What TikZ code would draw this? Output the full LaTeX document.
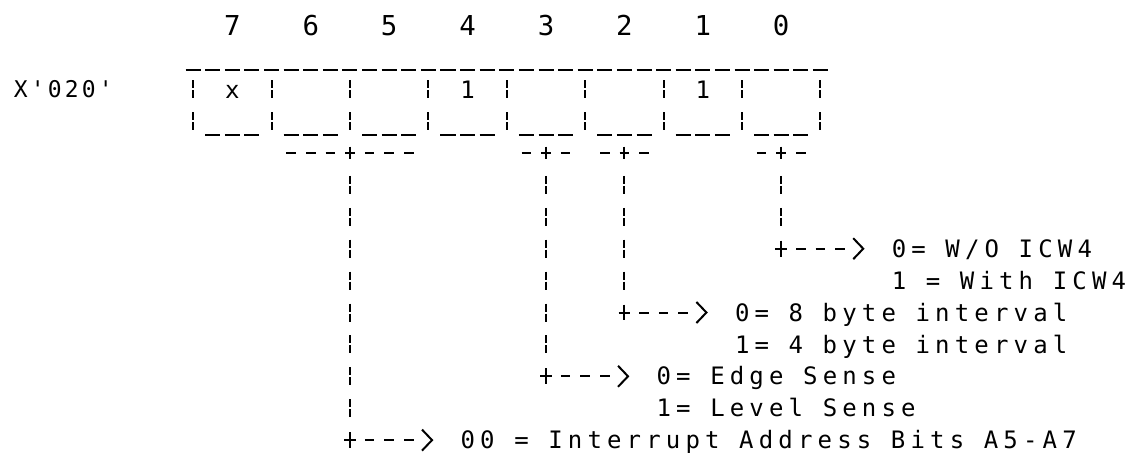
\documentclass[tikz,border=0pt]{standalone}
\usepackage{fontspec}
\newfontfamily\dotmono[LetterSpace=21.5]{DejaVu Sans Mono}
\newfontfamily\plainmono{DejaVu Sans Mono}
\newfontfamily\hexmono[LetterSpace=13.7]{DejaVu Sans Mono}
\usetikzlibrary{arrows.meta,calc}
\begin{document}
\begin{tikzpicture}[x=19.6pt,y=-31.9pt,
  ink/.style={line width=2pt,draw=black},
  uline/.style={line width=1.6pt,draw=black,dash pattern=on 15pt off 4.6pt},
  brokenbar/.style={ink,dash pattern=on 8pt off 2pt on 8pt off 13.9pt},
  hdash/.style={ink,dash pattern=on 9.5pt off 10.1pt},
  stem/.style={ink,dash pattern=on 9.5pt off 10.1pt on 9.5pt off 10.1pt on 9.5pt off 60pt,
     -{Straight Barb[length=10pt,width=21pt]}},
  bitnum/.style={font=\plainmono\fontsize{27.4}{30}\selectfont,inner sep=0pt,anchor=base},
  bitval/.style={font=\plainmono\fontsize{24}{28}\selectfont,inner sep=0pt,anchor=base},
  regname/.style={font=\hexmono\fontsize{23}{26}\selectfont,inner sep=0pt,anchor=base west},
  lbl/.style={font=\dotmono\fontsize{24}{28}\selectfont,inner sep=0pt,anchor=base west}]

\fill[white] (-0.857,-0.796) rectangle (57.714,13.498);
\useasboundingbox (-0.857,-0.796) rectangle (57.714,13.498);

% bit numbers
\foreach \b/\c in {7/11,6/15,5/19,4/23,3/27,2/31,1/35,0/39}
  \node[bitnum] (n\b) at (\c,0.313) {\b};

\node[regname] (reg) at (-0.163,2.245) {X'020'};

% register box
\draw[uline] (8.617,1.40) -- (41.5,1.40);
\foreach \c in {9,13,...,41} \draw[brokenbar] (\c,1.718) -- (\c,3.282);
\foreach \c in {11,15,...,39} \draw[uline] ({\c-1.383},3.44) -- ({\c+1.5},3.44);
\node[bitval] (v7) at (11,2.3) {x};
\node[bitval] (v4) at (23,2.3) {1};
\node[bitval] (v1) at (35,2.3) {1};

% field brackets
\draw[hdash] (13.758,4) -- (20.3,4);
\draw[hdash] (25.758,4) -- (28.3,4);
\draw[hdash] (29.758,4) -- (32.3,4);
\draw[hdash] (37.758,4) -- (40.3,4);
\coordinate (f65) at (17,4);
\coordinate (f3) at (27,4);
\coordinate (f2) at (31,4);
\coordinate (f0) at (39,4);

% corners
\coordinate (k65) at (17,13);
\coordinate (k3) at (27,11);
\coordinate (k2) at (31,9);
\coordinate (k0) at (39,7);

% labels
\node[lbl] (L0a) at (44.632,7.27) {0= W/O ICW4};
\node[lbl] (L0b) at (44.632,8.27) {1 = With ICW4};
\node[lbl] (L2a) at (36.632,9.27) {0= 8 byte interval};
\node[lbl] (L2b) at (36.632,10.27) {1= 4 byte interval};
\node[lbl] (L3a) at (32.632,11.27) {0= Edge Sense};
\node[lbl] (L3b) at (32.632,12.27) {1= Level Sense};
\node[lbl] (L65) at (22.632,13.27) {00 = Interrupt Address Bits A5-A7};

% connectors
\foreach \k in {65,3,2,0} {
  \draw[ink] ($(f\k)+(0,-0.2)$) -- ($(f\k)+(0,0.2)$);
  \draw[brokenbar] ($(f\k)+(0,0.718)$) -- ($(k\k)+(0,-0.718)$);
  \draw[ink] ($(k\k)+(-0.3,0)$) -- ($(k\k)+(0.3,0)$)
             ($(k\k)+(0,-0.25)$) -- ($(k\k)+(0,0.25)$);
  \draw[stem] ($(k\k)+(0.758,0)$) -- ($(k\k)+(4.255,0)$);
}
\end{tikzpicture}
\end{document}
